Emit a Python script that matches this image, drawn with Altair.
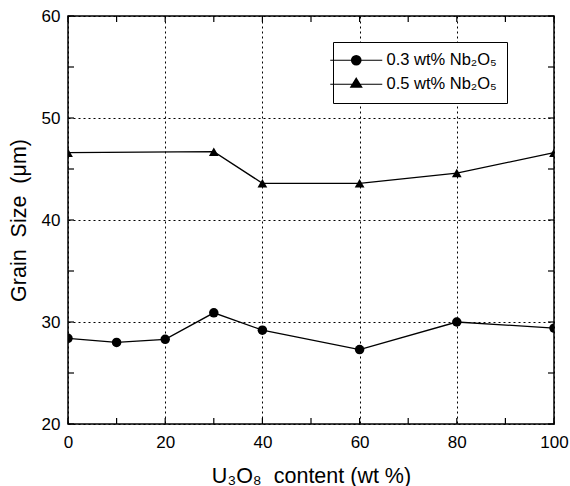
import altair as alt
import pandas as pd

# ---- data ----
x_03 = [0, 10, 20, 30, 40, 60, 80, 100]
y_03 = [28.4, 28.0, 28.3, 30.9, 29.2, 27.3, 30.0, 29.4]
x_05 = [0, 30, 40, 60, 80, 100]
y_05 = [46.6, 46.7, 43.6, 43.6, 44.6, 46.6]
series_names = ["0.3 wt% Nb₂O₅", "0.5 wt% Nb₂O₅"]
x_major = [0, 20, 40, 60, 80, 100]
y_major = [20, 30, 40, 50, 60]
x_minor = [0, 10, 20, 30, 40, 50, 60, 70, 80, 90, 100]
y_minor = [20, 25, 30, 35, 40, 45, 50, 55, 60]

W, H = 486, 408
FONT = "Liberation Sans"

df = pd.DataFrame(
    {"x": x_03 + x_05,
     "y": y_03 + y_05,
     "series": [series_names[0]] * len(x_03) + [series_names[1]] * len(x_05)}
)
dxt = pd.DataFrame({"x": x_minor})
dyt = pd.DataFrame({"y": y_minor})

xscale = alt.Scale(domain=[0, 100], nice=False, zero=False)
yscale = alt.Scale(domain=[20, 60], nice=False, zero=False)

xaxis = alt.Axis(values=x_major, grid=True, gridDash=[2, 3], gridColor="black",
                 gridWidth=1, gridOpacity=1, ticks=False, domain=False,
                 labelFont=FONT, labelFontSize=17, labelColor="black", labelPadding=10,
                 labelFlush=False,
                 titleFont=FONT, titleFontSize=21.5,
                 titleFontWeight="normal", titleColor="black", titlePadding=15)
yaxis = alt.Axis(values=y_major, grid=True, gridDash=[2, 3], gridColor="black",
                 gridWidth=1, gridOpacity=1, ticks=False, domain=False,
                 labelFont=FONT, labelFontSize=17, labelColor="black", labelPadding=8,
                 labelFlush=False,
                 titleFont=FONT, titleFontSize=21.5,
                 titleFontWeight="normal", titleColor="black", titlePadding=11)
XT = "U₃O₈\u00a0 content (wt %)"
YT = "Grain\u00a0 Size\u00a0 (μm)"


def X(field="x"):
    return alt.X(f"{field}:Q", scale=xscale, axis=xaxis, title=XT)


def Y(field="y"):
    return alt.Y(f"{field}:Q", scale=yscale, axis=yaxis, title=YT)


base = alt.Chart(df)

lines = base.mark_line(color="black", strokeWidth=1.3).encode(
    x=X(), y=Y(), detail="series:N",
)

circles = base.transform_filter(alt.datum.series == series_names[0]).mark_point(
    shape="circle", filled=True, color="black", opacity=1, size=90, clip=True
).encode(x=X(), y=Y())

triangles = base.transform_filter(alt.datum.series == series_names[1]).mark_point(
    shape="triangle-up", filled=True, color="black", opacity=1, size=95, clip=True
).encode(x=X(), y=Y())


# legend: symbol paths combine a short line segment with the marker
# (marker drawn as nested outlines so that it reads as filled)
def ring(r):
    return f"M{-r},0A{r},{r} 0 1,0 {r},0A{r},{r} 0 1,0 {-r},0"


def tri(s):
    return f"M0,{-1.2 * s}L{1.1 * s},{0.6 * s}L{-1.1 * s},{0.6 * s}Z"


leg_circle = "M-5.2,0H5.2" + "".join(ring(r) for r in [0.95, 0.75, 0.55, 0.35, 0.15])
leg_tri = "M-5.2,0H5.2" + "".join(tri(s) for s in [1.0, 0.8, 0.6, 0.4, 0.2])

legend_layer = base.transform_filter("false").mark_point(filled=False, color="black").encode(
    x=X(),
    y=Y(),
    shape=alt.Shape(
        "series:N",
        scale=alt.Scale(domain=series_names, range=[leg_circle, leg_tri]),
        legend=alt.Legend(
            title=None, orient="none", legendX=265, legendY=26,
            strokeColor="black", fillColor="white", padding=10,
            symbolSize=100, symbolStrokeColor="black",
            symbolStrokeWidth=1.2, symbolOpacity=1, symbolOffset=5,
            labelOffset=22, labelFont=FONT, labelFontSize=16.5, labelColor="black",
            rowPadding=6, labelLimit=300,
        ),
    ),
)

xticks_b = alt.Chart(dxt).mark_rule(color="black", strokeWidth=1.2).encode(
    x=X(), y=alt.value(H), y2=alt.value(H - 6))
xticks_t = alt.Chart(dxt).mark_rule(color="black", strokeWidth=1.2).encode(
    x=X(), y=alt.value(0), y2=alt.value(6))
yticks_l = alt.Chart(dyt).mark_rule(color="black", strokeWidth=1.2).encode(
    y=Y(), x=alt.value(0), x2=alt.value(6))
yticks_r = alt.Chart(dyt).mark_rule(color="black", strokeWidth=1.2).encode(
    y=Y(), x=alt.value(W), x2=alt.value(W - 6))

chart = alt.layer(
    lines, circles, triangles, legend_layer, xticks_b, xticks_t, yticks_l, yticks_r
).properties(
    width=W, height=H,
    autosize=alt.AutoSizeParams(type="none"),
    padding={"left": 68, "top": 16, "right": 16, "bottom": 62},
    background="white",
).configure_view(stroke="black", strokeWidth=1.5)

chart.save("out.html", embed_options={"renderer": "svg", "actions": False})
